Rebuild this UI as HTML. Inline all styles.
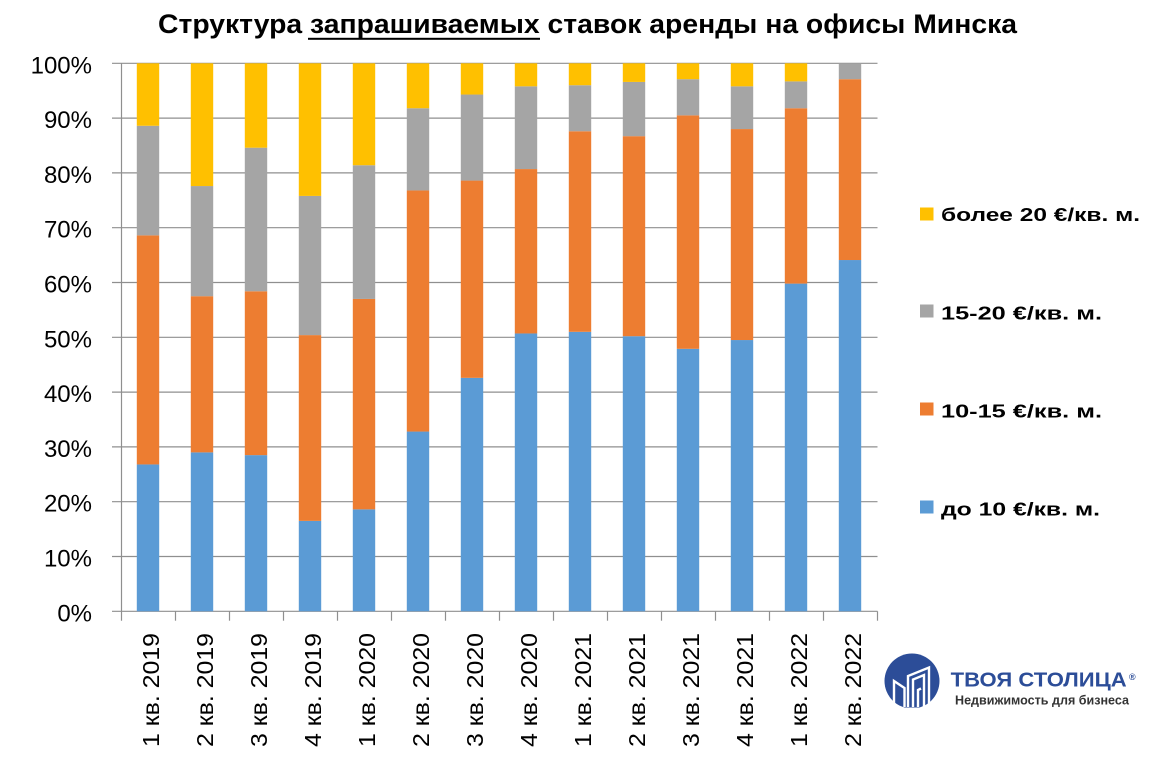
<!DOCTYPE html>
<html><head><meta charset="utf-8"><style>
html,body{margin:0;padding:0;background:#fff;}
svg{display:block;}
</style></head><body>
<svg width="1166" height="776" viewBox="0 0 1166 776" xmlns="http://www.w3.org/2000/svg">
<rect width="1166" height="776" fill="#fff"/>
<!-- title -->
<text x="158" y="33" font-family="Liberation Sans, sans-serif" font-weight="bold" font-size="26.5" fill="#000" textLength="859" lengthAdjust="spacingAndGlyphs">Структура запрашиваемых ставок аренды на офисы Минска</text>
<rect x="308" y="37.8" width="232" height="2" fill="#000"/>

<!-- gridlines -->
<g stroke="#8f8f8f" stroke-width="1.2">
<line x1="112" y1="63.3" x2="877.5" y2="63.3"/>
<line x1="112" y1="118.1" x2="877.5" y2="118.1"/>
<line x1="112" y1="172.9" x2="877.5" y2="172.9"/>
<line x1="112" y1="227.7" x2="877.5" y2="227.7"/>
<line x1="112" y1="282.5" x2="877.5" y2="282.5"/>
<line x1="112" y1="337.3" x2="877.5" y2="337.3"/>
<line x1="112" y1="392.1" x2="877.5" y2="392.1"/>
<line x1="112" y1="446.9" x2="877.5" y2="446.9"/>
<line x1="112" y1="501.7" x2="877.5" y2="501.7"/>
<line x1="112" y1="556.5" x2="877.5" y2="556.5"/>
<line x1="112" y1="611.3" x2="877.5" y2="611.3"/>
<line x1="121.5" y1="63.3" x2="121.5" y2="620.7"/>
<line x1="175.5" y1="611.3" x2="175.5" y2="620.7"/>
<line x1="229.5" y1="611.3" x2="229.5" y2="620.7"/>
<line x1="283.5" y1="611.3" x2="283.5" y2="620.7"/>
<line x1="337.5" y1="611.3" x2="337.5" y2="620.7"/>
<line x1="391.5" y1="611.3" x2="391.5" y2="620.7"/>
<line x1="445.5" y1="611.3" x2="445.5" y2="620.7"/>
<line x1="499.5" y1="611.3" x2="499.5" y2="620.7"/>
<line x1="553.5" y1="611.3" x2="553.5" y2="620.7"/>
<line x1="607.5" y1="611.3" x2="607.5" y2="620.7"/>
<line x1="661.5" y1="611.3" x2="661.5" y2="620.7"/>
<line x1="715.5" y1="611.3" x2="715.5" y2="620.7"/>
<line x1="769.5" y1="611.3" x2="769.5" y2="620.7"/>
<line x1="823.5" y1="611.3" x2="823.5" y2="620.7"/>
<line x1="877.5" y1="611.3" x2="877.5" y2="620.7"/>
</g>

<!-- y labels -->
<g font-family="Liberation Sans, sans-serif" font-size="24" fill="#000" text-anchor="end">
<text x="92" y="73.3">100%</text>
<text x="92" y="128.1">90%</text>
<text x="92" y="182.9">80%</text>
<text x="92" y="237.7">70%</text>
<text x="92" y="292.5">60%</text>
<text x="92" y="347.3">50%</text>
<text x="92" y="402.1">40%</text>
<text x="92" y="456.9">30%</text>
<text x="92" y="511.7">20%</text>
<text x="92" y="566.5">10%</text>
<text x="92" y="621.3">0%</text>
</g>

<!-- bars -->
<g>
<!-- 1 -->
<rect x="136.8" y="464.44" width="22.4" height="146.86" fill="#5B9BD5"/>
<rect x="136.8" y="235.37" width="22.4" height="229.07" fill="#ED7D31"/>
<rect x="136.8" y="125.77" width="22.4" height="109.6" fill="#A5A5A5"/>
<rect x="136.8" y="63.3" width="22.4" height="62.47" fill="#FFC000"/>
<!-- 2 -->
<rect x="190.8" y="452.38" width="22.4" height="158.92" fill="#5B9BD5"/>
<rect x="190.8" y="296.2" width="22.4" height="156.18" fill="#ED7D31"/>
<rect x="190.8" y="186.05" width="22.4" height="110.15" fill="#A5A5A5"/>
<rect x="190.8" y="63.3" width="22.4" height="122.75" fill="#FFC000"/>
<!-- 3 -->
<rect x="244.8" y="455.12" width="22.4" height="156.18" fill="#5B9BD5"/>
<rect x="244.8" y="291.27" width="22.4" height="163.85" fill="#ED7D31"/>
<rect x="244.8" y="147.69" width="22.4" height="143.58" fill="#A5A5A5"/>
<rect x="244.8" y="63.3" width="22.4" height="84.39" fill="#FFC000"/>
<!-- 4 -->
<rect x="298.8" y="520.88" width="22.4" height="90.42" fill="#5B9BD5"/>
<rect x="298.8" y="335.11" width="22.4" height="185.77" fill="#ED7D31"/>
<rect x="298.8" y="195.92" width="22.4" height="139.19" fill="#A5A5A5"/>
<rect x="298.8" y="63.3" width="22.4" height="132.62" fill="#FFC000"/>
<!-- 5 -->
<rect x="352.8" y="509.37" width="22.4" height="101.93" fill="#5B9BD5"/>
<rect x="352.8" y="298.94" width="22.4" height="210.43" fill="#ED7D31"/>
<rect x="352.8" y="165.23" width="22.4" height="133.71" fill="#A5A5A5"/>
<rect x="352.8" y="63.3" width="22.4" height="101.93" fill="#FFC000"/>
<!-- 6 -->
<rect x="406.8" y="431.56" width="22.4" height="179.74" fill="#5B9BD5"/>
<rect x="406.8" y="190.44" width="22.4" height="241.12" fill="#ED7D31"/>
<rect x="406.8" y="108.24" width="22.4" height="82.2" fill="#A5A5A5"/>
<rect x="406.8" y="63.3" width="22.4" height="44.94" fill="#FFC000"/>
<!-- 7 -->
<rect x="460.8" y="377.85" width="22.4" height="233.45" fill="#5B9BD5"/>
<rect x="460.8" y="180.57" width="22.4" height="197.28" fill="#ED7D31"/>
<rect x="460.8" y="94.54" width="22.4" height="86.03" fill="#A5A5A5"/>
<rect x="460.8" y="63.3" width="22.4" height="31.24" fill="#FFC000"/>
<!-- 8 -->
<rect x="514.8" y="333.46" width="22.4" height="277.84" fill="#5B9BD5"/>
<rect x="514.8" y="169.06" width="22.4" height="164.4" fill="#ED7D31"/>
<rect x="514.8" y="86.32" width="22.4" height="82.74" fill="#A5A5A5"/>
<rect x="514.8" y="63.3" width="22.4" height="23.02" fill="#FFC000"/>
<!-- 9 -->
<rect x="568.8" y="331.82" width="22.4" height="279.48" fill="#5B9BD5"/>
<rect x="568.8" y="131.25" width="22.4" height="200.57" fill="#ED7D31"/>
<rect x="568.8" y="85.22" width="22.4" height="46.03" fill="#A5A5A5"/>
<rect x="568.8" y="63.3" width="22.4" height="21.92" fill="#FFC000"/>
<!-- 10 -->
<rect x="622.8" y="336.2" width="22.4" height="275.1" fill="#5B9BD5"/>
<rect x="622.8" y="136.18" width="22.4" height="200.02" fill="#ED7D31"/>
<rect x="622.8" y="81.93" width="22.4" height="54.25" fill="#A5A5A5"/>
<rect x="622.8" y="63.3" width="22.4" height="18.63" fill="#FFC000"/>
<!-- 11 -->
<rect x="676.8" y="348.81" width="22.4" height="262.49" fill="#5B9BD5"/>
<rect x="676.8" y="115.36" width="22.4" height="233.45" fill="#ED7D31"/>
<rect x="676.8" y="79.19" width="22.4" height="36.17" fill="#A5A5A5"/>
<rect x="676.8" y="63.3" width="22.4" height="15.89" fill="#FFC000"/>
<!-- 12 -->
<rect x="730.8" y="340.04" width="22.4" height="271.26" fill="#5B9BD5"/>
<rect x="730.8" y="129.06" width="22.4" height="210.98" fill="#ED7D31"/>
<rect x="730.8" y="86.32" width="22.4" height="42.74" fill="#A5A5A5"/>
<rect x="730.8" y="63.3" width="22.4" height="23.02" fill="#FFC000"/>
<!-- 13 -->
<rect x="784.8" y="283.6" width="22.4" height="327.7" fill="#5B9BD5"/>
<rect x="784.8" y="108.24" width="22.4" height="175.36" fill="#ED7D31"/>
<rect x="784.8" y="81.38" width="22.4" height="26.86" fill="#A5A5A5"/>
<rect x="784.8" y="63.3" width="22.4" height="18.08" fill="#FFC000"/>
<!-- 14 -->
<rect x="838.8" y="260.03" width="22.4" height="351.27" fill="#5B9BD5"/>
<rect x="838.8" y="79.19" width="22.4" height="180.84" fill="#ED7D31"/>
<rect x="838.8" y="63.3" width="22.4" height="15.89" fill="#A5A5A5"/>
</g>

<!-- category labels -->
<g font-family="Liberation Sans, sans-serif" font-size="23" fill="#000" text-anchor="end">
<text transform="translate(159.2,633) rotate(-90)" textLength="114" lengthAdjust="spacingAndGlyphs">1 кв. 2019</text>
<text transform="translate(213.2,633) rotate(-90)" textLength="114" lengthAdjust="spacingAndGlyphs">2 кв. 2019</text>
<text transform="translate(267.2,633) rotate(-90)" textLength="114" lengthAdjust="spacingAndGlyphs">3 кв. 2019</text>
<text transform="translate(321.2,633) rotate(-90)" textLength="114" lengthAdjust="spacingAndGlyphs">4 кв. 2019</text>
<text transform="translate(375.2,633) rotate(-90)" textLength="114" lengthAdjust="spacingAndGlyphs">1 кв. 2020</text>
<text transform="translate(429.2,633) rotate(-90)" textLength="114" lengthAdjust="spacingAndGlyphs">2 кв. 2020</text>
<text transform="translate(483.2,633) rotate(-90)" textLength="114" lengthAdjust="spacingAndGlyphs">3 кв. 2020</text>
<text transform="translate(537.2,633) rotate(-90)" textLength="114" lengthAdjust="spacingAndGlyphs">4 кв. 2020</text>
<text transform="translate(591.2,633) rotate(-90)" textLength="114" lengthAdjust="spacingAndGlyphs">1 кв. 2021</text>
<text transform="translate(645.2,633) rotate(-90)" textLength="114" lengthAdjust="spacingAndGlyphs">2 кв. 2021</text>
<text transform="translate(699.2,633) rotate(-90)" textLength="114" lengthAdjust="spacingAndGlyphs">3 кв. 2021</text>
<text transform="translate(753.2,633) rotate(-90)" textLength="114" lengthAdjust="spacingAndGlyphs">4 кв. 2021</text>
<text transform="translate(807.2,633) rotate(-90)" textLength="114" lengthAdjust="spacingAndGlyphs">1 кв. 2022</text>
<text transform="translate(861.2,633) rotate(-90)" textLength="114" lengthAdjust="spacingAndGlyphs">2 кв. 2022</text>
</g>

<!-- legend -->
<g font-family="Liberation Sans, sans-serif" font-weight="bold" font-size="18" fill="#000">
<rect x="920" y="207.5" width="13.5" height="13" fill="#FFC000"/>
<text x="941" y="221" textLength="199" lengthAdjust="spacingAndGlyphs">более 20 €/кв. м.</text>
<rect x="920" y="304.5" width="13.5" height="13" fill="#A5A5A5"/>
<text x="941" y="319.3" textLength="161" lengthAdjust="spacingAndGlyphs">15-20 €/кв. м.</text>
<rect x="920" y="402.5" width="13.5" height="13" fill="#ED7D31"/>
<text x="941" y="417.3" textLength="161" lengthAdjust="spacingAndGlyphs">10-15 €/кв. м.</text>
<rect x="920" y="500.5" width="13.5" height="13" fill="#5B9BD5"/>
<text x="941" y="515.3" textLength="159" lengthAdjust="spacingAndGlyphs">до 10 €/кв. м.</text>
</g>

<!-- logo -->
<defs><clipPath id="lc"><rect x="880" y="650" width="65" height="57.5"/></clipPath></defs>
<circle cx="912" cy="681" r="27.5" fill="#2C4D98" clip-path="url(#lc)"/>
<g fill="none" stroke="#fff" stroke-width="2.4" stroke-linejoin="miter">
<path d="M894 707 V681 L904.5 688 V707"/>
<path d="M908 707 V676 L929 667.5 V707"/>
<path d="M913 707 V679.5 L924 675 V707"/>
<path d="M918 707 V690 L921 688.5"/>
</g>
<text x="950.7" y="686.7" font-family="Liberation Sans, sans-serif" font-weight="bold" font-size="20" fill="#2C4D98" textLength="176" lengthAdjust="spacingAndGlyphs">ТВОЯ СТОЛИЦА</text>
<text x="1129" y="680" font-family="Liberation Sans, sans-serif" font-weight="bold" font-size="9" fill="#2C4D98">®</text>
<text x="955" y="704.5" font-family="Liberation Sans, sans-serif" font-weight="bold" font-size="12.5" fill="#333" textLength="174" lengthAdjust="spacingAndGlyphs">Недвижимость для бизнеса</text>
</svg>
</body></html>
